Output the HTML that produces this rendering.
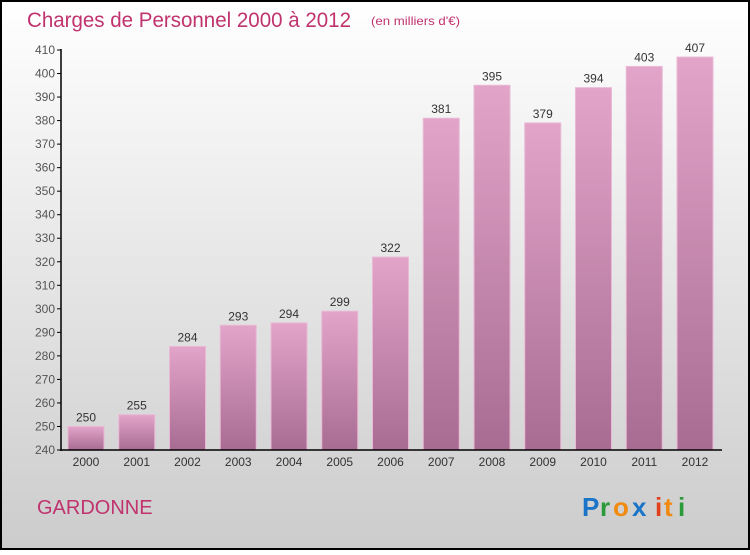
<!DOCTYPE html>
<html><head><meta charset="utf-8"><style>
body{margin:0;width:750px;height:550px;overflow:hidden;font-family:"Liberation Sans",sans-serif}
</style></head><body>
<svg width="750" height="550" xmlns="http://www.w3.org/2000/svg">
<defs>
<linearGradient id="bg" x1="0" y1="0" x2="0" y2="1"><stop offset="0" stop-color="#ffffff"/><stop offset="1" stop-color="#cccccc"/></linearGradient>
<linearGradient id="bar" x1="0" y1="0" x2="0" y2="1"><stop offset="0" stop-color="#e3a4c9"/><stop offset="1" stop-color="#a86c92"/></linearGradient>
</defs>
<rect x="1" y="1" width="748" height="548" fill="url(#bg)" stroke="#000" stroke-width="2"/>
<text x="27" y="27" font-size="21" fill="#c0336e" textLength="324" lengthAdjust="spacingAndGlyphs">Charges de Personnel 2000 à 2012</text>
<text x="371" y="25" font-size="12" fill="#c0336e" textLength="89" lengthAdjust="spacingAndGlyphs">(en milliers d'€)</text>
<g id="plot"></g>
<text x="37" y="514" font-size="20" fill="#c0336e">GARDONNE</text>
<g font-size="26" font-family="Liberation Sans, sans-serif" font-weight="bold">
<text x="582" y="516" fill="#1a74c8">P</text><text x="600" y="516" fill="#2a9a3a">r</text><text x="613" y="516" fill="#f08a10">o</text><text x="632" y="516" fill="#1a74c8">x</text><text x="655" y="516" fill="#e0401a">i</text><text x="664" y="516" fill="#f08a10">t</text><text x="678" y="516" fill="#2a9a3a">i</text>
</g>
</svg>
<script>
const categories=["2000","2001","2002","2003","2004","2005","2006","2007","2008","2009","2010","2011","2012"];
const values=[250,255,284,293,294,299,322,381,395,379,394,403,407];
const ticks=[240,250,260,270,280,290,300,310,320,330,340,350,360,370,380,390,400,410];
const NS="http://www.w3.org/2000/svg";
const g=document.getElementById('plot');
const y=v=>450-(v-240)*400/170;
const x=i=>86+i*50.75;
function mk(t,a,txt){const e=document.createElementNS(NS,t);for(const k in a)e.setAttribute(k,a[k]);if(txt!==undefined)e.textContent=txt;g.appendChild(e);return e;}
ticks.forEach(t=>{
 const l=mk('line',{x1:57,x2:61,y1:y(t),y2:y(t),stroke:'#000'});
 
 
 const tx=mk('text',{x:55,y:y(t)+4,'font-size':12,fill:'#555','text-anchor':'end'},t);
 
 
});
categories.forEach((c,i)=>{
 const v=values[i];
 const r=mk('rect',{x:x(i)-18,y:y(v),width:36,height:450-y(v),fill:'url(#bar)',stroke:'#eab8d6','stroke-width':1});
 
 
 const vl=mk('text',{x:x(i),y:y(v)-5,'font-size':12,fill:'#333','text-anchor':'middle'},v);
 
 
 const cl=mk('text',{x:x(i),y:466,'font-size':12,fill:'#333','text-anchor':'middle'},c);
 
 
});
const ya=mk('line',{x1:61,x2:61,y1:49,y2:451,stroke:'#000','stroke-width':1.5});


const xa=mk('line',{x1:60,x2:722,y1:450,y2:450,stroke:'#000','stroke-width':1.5});


</script>
</body></html>
